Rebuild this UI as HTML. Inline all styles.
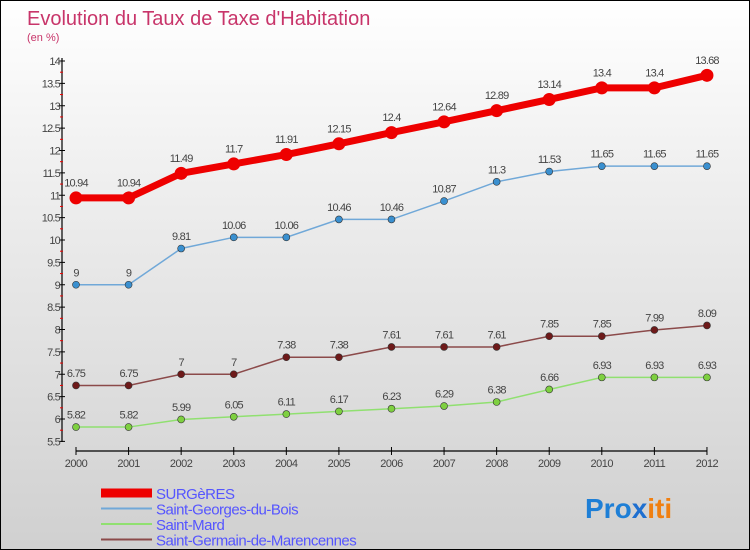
<!DOCTYPE html>
<html><head><meta charset="utf-8"><style>
body{margin:0;}
#c{position:relative;width:748px;height:548px;border:1px solid #000;background:linear-gradient(#ffffff,#f0f0f0 30%,#d0d0d0);overflow:hidden;font-family:"Liberation Sans",sans-serif;}
</style></head><body>
<div id="c">
<svg id="s" width="748" height="548" xmlns="http://www.w3.org/2000/svg" style="position:absolute;left:0;top:0">
<text x="26" y="24" font-size="20" fill="#c8356a">Evolution du Taux de Taxe d'Habitation</text>
<text x="26" y="40" font-size="11" fill="#c8356a">(en %)</text>
<g id="axes"></g><g id="series"></g><g id="legend"></g>
<text x="584" y="517" font-size="28" font-weight="bold"><tspan fill="#1e7fd6">Pro</tspan><tspan fill="#1e6fd0">x</tspan><tspan fill="#f07f10">iti</tspan></text>
</svg>
</div>
<script>
const years=[2000,2001,2002,2003,2004,2005,2006,2007,2008,2009,2010,2011,2012];
const surgeres=[10.94,10.94,11.49,11.7,11.91,12.15,12.4,12.64,12.89,13.14,13.4,13.4,13.68];
const stGeorges=[9,9,9.81,10.06,10.06,10.46,10.46,10.87,11.3,11.53,11.65,11.65,11.65];
const stMard=[5.82,5.82,5.99,6.05,6.11,6.17,6.23,6.29,6.38,6.66,6.93,6.93,6.93];
const stGermain=[6.75,6.75,7,7,7.38,7.38,7.61,7.61,7.61,7.85,7.85,7.99,8.09];
const yTicks=[5.5,6,6.5,7,7.5,8,8.5,9,9.5,10,10.5,11,11.5,12,12.5,13,13.5,14];
const NS="http://www.w3.org/2000/svg";
const xs=i=>75+i*52.58;
const ys=v=>60+(14-v)*44.75;
function mk(t,a,p){const e=document.createElementNS(NS,t);for(const k in a)e.setAttribute(k,a[k]);p.appendChild(e);return e;}
const ax=document.getElementById('axes');
const yl=mk('line',{x1:61,y1:57,x2:61,y2:441,stroke:'#000','stroke-width':1.2},ax);


yTicks.forEach((v,i)=>{
  mk('line',{x1:58,x2:64,y1:ys(v),y2:ys(v),stroke:'#000'},ax);
  if(i<yTicks.length-1) mk('line',{x1:59,x2:62,y1:ys(v+0.25),y2:ys(v+0.25),stroke:'#e00'},ax);
  const t=mk('text',{x:59,y:ys(v)+4,'font-size':11,fill:'#444','text-anchor':'end','letter-spacing':'-0.8'},ax);
  t.textContent=String(v);
  
  
});
const xl=mk('line',{x1:75,y1:450,x2:706,y2:450,stroke:'#000','stroke-width':1.2},ax);


years.forEach((y,i)=>{
  mk('line',{x1:xs(i),x2:xs(i),y1:446,y2:454,stroke:'#000'},ax);
  const t=mk('text',{x:xs(i),y:466,'font-size':11,fill:'#444','text-anchor':'middle','letter-spacing':'-0.5'},ax);
  t.textContent=y;
  
  
});
const sg=document.getElementById('series');
function series(vals,color,dot,lw,r,name){
  const g=mk('g',{},sg);
  
  
  mk('polyline',{points:vals.map((v,i)=>xs(i)+','+ys(v)).join(' '),fill:'none',stroke:color,'stroke-width':lw},g);
  vals.forEach((v,i)=>{
    const c=mk('circle',{cx:xs(i),cy:ys(v),r:r,fill:dot,stroke:'#333','stroke-width':r>5?0:0.6},g);
    
    
    const t=mk('text',{x:xs(i),y:ys(v)-(r+5),'font-size':11,fill:'#444','text-anchor':'middle','letter-spacing':'-0.8'},g);
    t.textContent=String(v);
    
    
  });
}
series(stMard,'#90e070','#7ed040',1.5,3.5,'saint-mard-series');
series(stGermain,'#8b4a4a','#6e1a1a',1.5,3.5,'saint-germain-series');
series(stGeorges,'#70a8d8','#3a90d0',1.5,3.5,'saint-georges-series');
series(surgeres,'#ee0000','#ee0000',7,6.5,'surgeres-series');
const lg=document.getElementById('legend');
const leg=[['SURGèRES','#ee0000',9],['Saint-Georges-du-Bois','#70a8d8',2],['Saint-Mard','#90e070',2],['Saint-Germain-de-Marencennes','#8b4a4a',2]];
leg.forEach((l,i)=>{
  const y=492+i*15.5;
  const g=mk('g',{},lg);
  
  
  mk('line',{x1:100,x2:151,y1:y,y2:y,stroke:l[1],'stroke-width':l[2]},g);
  const t=mk('text',{x:155,y:y+6,'font-size':15,fill:'#5555ff','letter-spacing':'-0.5'},g);
  t.textContent=l[0];
});
</script>
</body></html>
